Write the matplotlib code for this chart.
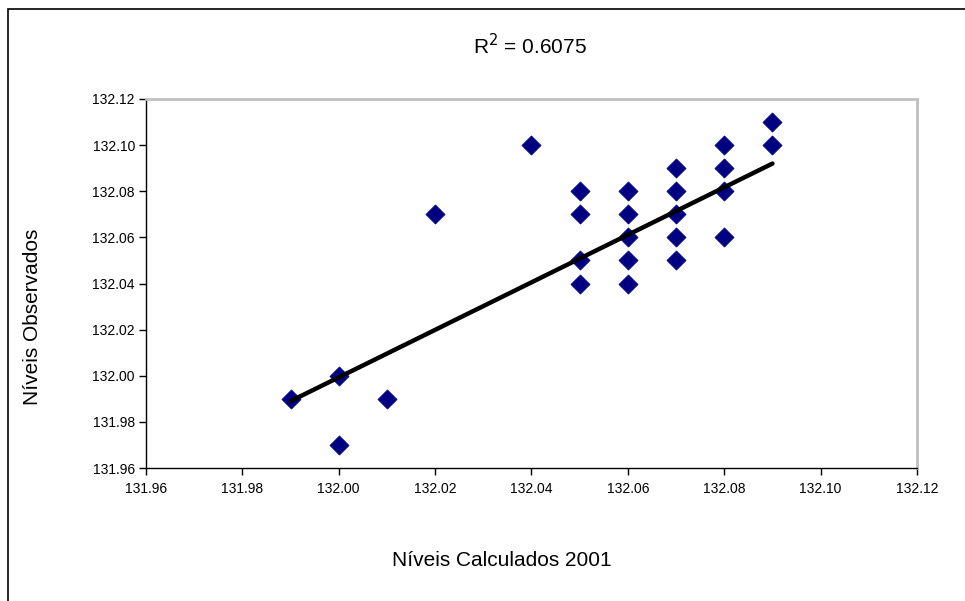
import matplotlib
matplotlib.use("Agg")
import matplotlib.pyplot as plt
from matplotlib.patches import Rectangle
from matplotlib.ticker import MultipleLocator, FormatStrFormatter

plt.rcParams['font.family'] = ['Liberation Sans', 'DejaVu Sans']

calc = [131.99, 132.00, 132.00, 132.01, 132.02, 132.04,
        132.05, 132.05, 132.05, 132.05,
        132.06, 132.06, 132.06, 132.06, 132.06,
        132.07, 132.07, 132.07, 132.07, 132.07,
        132.08, 132.08, 132.08, 132.08,
        132.09, 132.09]
obs = [131.99, 132.00, 131.97, 131.99, 132.07, 132.10,
       132.08, 132.07, 132.05, 132.04,
       132.08, 132.07, 132.06, 132.05, 132.04,
       132.09, 132.08, 132.07, 132.06, 132.05,
       132.10, 132.09, 132.08, 132.06,
       132.11, 132.10]
# linear trendline endpoints
trend_x = [131.99, 132.09]
trend_y = [131.989, 132.092]
title_text = "R$^2$ = 0.6075"
xlabel = "Níveis Calculados 2001"
ylabel = "Níveis Observados"

W, H = 965, 601
fig = plt.figure(figsize=(W/100, H/100), dpi=100)
fig.patch.set_facecolor('white')

# outer chart border (clipped on right/bottom)
fig.patches.append(Rectangle((8/W, -0.1), 1.2, (H - 9)/H + 0.1, transform=fig.transFigure,
                             fill=False, edgecolor='black', linewidth=1.2))

L, R, T, B = 146, 917, 99, 468
ax = fig.add_axes([L/W, 1 - B/H, (R - L)/W, (B - T)/H])

ax.set_xlim(131.96, 132.12)
ax.set_ylim(131.96, 132.12)
ax.xaxis.set_major_locator(MultipleLocator(0.02))
ax.yaxis.set_major_locator(MultipleLocator(0.02))
ax.xaxis.set_major_formatter(FormatStrFormatter('%.2f'))
ax.yaxis.set_major_formatter(FormatStrFormatter('%.2f'))

ax.scatter(calc, obs, marker='D', s=95, color='#000080', edgecolors='#000080', linewidths=0.5, zorder=3)
ax.plot(trend_x, trend_y, color='black', linewidth=3.2, solid_capstyle='round', zorder=4)

for s in ['top', 'right']:
    ax.spines[s].set_color('#c0c0c0')
    ax.spines[s].set_linewidth(2)
for s in ['left', 'bottom']:
    ax.spines[s].set_color('black')
    ax.spines[s].set_linewidth(1)

ax.tick_params(axis='both', direction='out', length=5, width=1, labelsize=10, colors='black', pad=3)
ax.tick_params(axis='x', pad=5)

fig.text(530/W, 1 - 46/H, title_text, ha='center', va='center', fontsize=15)
fig.text(502/W, 1 - 561/H, xlabel, ha='center', va='center', fontsize=15)
fig.text(33/W, 1 - 317/H, ylabel, ha='center', va='center', rotation=90, fontsize=15)

fig.savefig('out.png', dpi=100)
